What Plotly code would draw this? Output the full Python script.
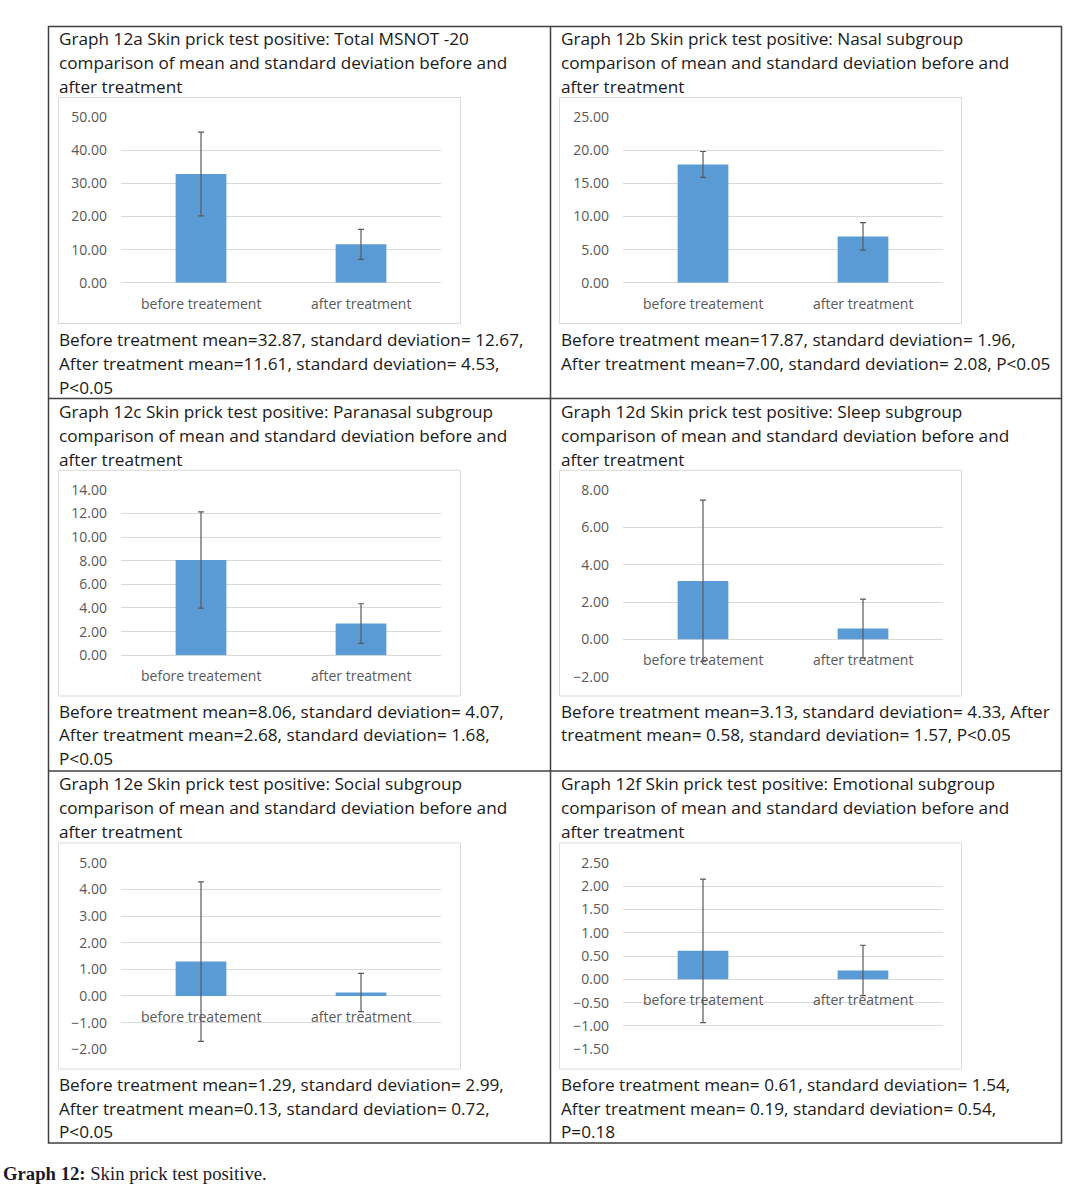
import plotly.graph_objects as go

W, H = 1090, 1194

# ---------------- data ----------------
categories = ["before treatement", "after treatment"]

means_a = [32.87, 11.61]
sd_a = [12.67, 4.53]
ticks_a = [0, 10, 20, 30, 40, 50]

means_b = [17.87, 7.00]
sd_b = [1.96, 2.08]
ticks_b = [0, 5, 10, 15, 20, 25]

means_c = [8.06, 2.68]
sd_c = [4.07, 1.68]
ticks_c = [0, 2, 4, 6, 8, 10, 12, 14]

means_d = [3.13, 0.58]
sd_d = [4.33, 1.57]
ticks_d = [-2, 0, 2, 4, 6, 8]

means_e = [1.29, 0.13]
sd_e = [2.99, 0.72]
ticks_e = [-2, -1, 0, 1, 2, 3, 4, 5]

means_f = [0.61, 0.19]
sd_f = [1.54, 0.54]
ticks_f = [-1.5, -1.0, -0.5, 0.0, 0.5, 1.0, 1.5, 2.0, 2.5]

titles_a = ["Graph 12a Skin prick test positive: Total MSNOT -20",
            "comparison of mean and standard deviation before and",
            "after treatment"]
titles_b = ["Graph 12b Skin prick test positive: Nasal subgroup",
            "comparison of mean and standard deviation before and",
            "after treatment"]
titles_c = ["Graph 12c Skin prick test positive: Paranasal subgroup",
            "comparison of mean and standard deviation before and",
            "after treatment"]
titles_d = ["Graph 12d Skin prick test positive: Sleep subgroup",
            "comparison of mean and standard deviation before and",
            "after treatment"]
titles_e = ["Graph 12e Skin prick test positive: Social subgroup",
            "comparison of mean and standard deviation before and",
            "after treatment"]
titles_f = ["Graph 12f Skin prick test positive: Emotional subgroup",
            "comparison of mean and standard deviation before and",
            "after treatment"]

captions_a = ["Before treatment mean=32.87, standard deviation= 12.67,",
              "After treatment mean=11.61, standard deviation= 4.53,",
              "P<0.05"]
captions_b = ["Before treatment mean=17.87, standard deviation= 1.96,",
              "After treatment mean=7.00, standard deviation= 2.08, P<0.05"]
captions_c = ["Before treatment mean=8.06, standard deviation= 4.07,",
              "After treatment mean=2.68, standard deviation= 1.68,",
              "P<0.05"]
captions_d = ["Before treatment mean=3.13, standard deviation= 4.33, After",
              "treatment mean= 0.58, standard deviation= 1.57, P<0.05"]
captions_e = ["Before treatment mean=1.29, standard deviation= 2.99,",
              "After treatment mean=0.13, standard deviation= 0.72,",
              "P<0.05"]
captions_f = ["Before treatment mean= 0.61, standard deviation= 1.54,",
              "After treatment mean= 0.19, standard deviation= 0.54,",
              "P=0.18"]

figure_caption_bold = "Graph 12:"
figure_caption_rest = " Skin prick test positive."

# ---------------- layout geometry (pixels) ----------------
def px(x):
    return x / W

def py(y):
    return 1 - y / H

BODY_FONT = "Open Sans"
BODY_SIZE = 17.2
CHART_FONT = "Open Sans"
CHART_SIZE = 14
BAR_COLOR = "#5B9BD5"
ERR_COLOR = "#595959"
GRID_COLOR = "#D9D9D9"
TICK_COLOR = "#595959"
TEXT_COLOR = "#1a1a1a"

panels = [
    dict(m=means_a, s=sd_a, t=ticks_a, x0=121, x1=441, yt=117.3, yb=282.7,
         box=(58.5, 97.5, 460.5, 323.5), tx=57, titles=titles_a, ty=[39, 62.5, 86.5],
         caps=captions_a, cy=[339.3, 363.3, 387]),
    dict(m=means_b, s=sd_b, t=ticks_b, x0=623, x1=943, yt=117.3, yb=282.7,
         box=(559.5, 97.5, 961.5, 323.5), tx=559, titles=titles_b, ty=[39, 62.5, 86.5],
         caps=captions_b, cy=[339.3, 363.3]),
    dict(m=means_c, s=sd_c, t=ticks_c, x0=121, x1=441, yt=489.7, yb=655.3,
         box=(58.5, 470.3, 460.5, 696), tx=57, titles=titles_c, ty=[411.5, 435.3, 459],
         caps=captions_c, cy=[711.3, 735, 758.7]),
    dict(m=means_d, s=sd_d, t=ticks_d, x0=623, x1=943, yt=490, yb=676.7,
         box=(559.5, 470.3, 961.5, 696), tx=559, titles=titles_d, ty=[411.5, 435.3, 459],
         caps=captions_d, cy=[711.3, 735]),
    dict(m=means_e, s=sd_e, t=ticks_e, x0=121, x1=441, yt=862.7, yb=1049.3,
         box=(58.5, 843, 460.5, 1069), tx=57, titles=titles_e, ty=[783.5, 807.3, 831],
         caps=captions_e, cy=[1084, 1108, 1131.7]),
    dict(m=means_f, s=sd_f, t=ticks_f, x0=623, x1=943, yt=862.7, yb=1049.3,
         box=(559.5, 843, 961.5, 1069), tx=559, titles=titles_f, ty=[783.5, 807.3, 831],
         caps=captions_f, cy=[1084, 1108, 1131.7]),
]

fig = go.Figure()
annotations = []
shapes = []

for i, p in enumerate(panels):
    n = i + 1
    xa = "x" if n == 1 else f"x{n}"
    ya = "y" if n == 1 else f"y{n}"
    fig.add_trace(go.Bar(
        x=[0, 1], y=p["m"], width=0.317,
        marker=dict(color=BAR_COLOR, line=dict(width=0)),
        error_y=dict(type="data", array=p["s"], visible=True,
                     color=ERR_COLOR, thickness=1.2, width=3),
        xaxis=xa, yaxis=ya, showlegend=False, hoverinfo="skip",
    ))
    xkey = "xaxis" if n == 1 else f"xaxis{n}"
    ykey = "yaxis" if n == 1 else f"yaxis{n}"
    fig.layout[xkey] = dict(
        domain=[px(p["x0"]), px(p["x1"])], range=[-0.5, 1.5],
        showgrid=False, zeroline=False, showticklabels=False, showline=False,
        anchor=ya, fixedrange=True, automargin=False,
    )
    fig.layout[ykey] = dict(
        domain=[py(p["yb"]), py(p["yt"])], range=[p["t"][0], p["t"][-1]],
        tickvals=p["t"], tickformat=".2f",
        showgrid=True, gridcolor=GRID_COLOR, gridwidth=1,
        zeroline=True, zerolinecolor=GRID_COLOR, zerolinewidth=1.2,
        showline=False, ticks="", ticklabelstandoff=13,
        tickfont=dict(family=CHART_FONT, size=CHART_SIZE, color=TICK_COLOR),
        anchor=xa, fixedrange=True, automargin=False,
    )
    for ci, cat in enumerate(categories):
        annotations.append(dict(
            x=ci, y=0, xref=xa, yref=ya, text=cat, showarrow=False,
            xanchor="center", yanchor="middle", yshift=-20.5,
            font=dict(family=CHART_FONT, size=CHART_SIZE, color=TICK_COLOR),
        ))
    bx0, by0, bx1, by1 = p["box"]
    shapes.append(dict(type="rect", xref="paper", yref="paper",
                       x0=px(bx0), x1=px(bx1), y0=py(by1), y1=py(by0),
                       line=dict(color="#D9D9D9", width=1), layer="below"))
    for txt, yy in zip(p["titles"], p["ty"]):
        annotations.append(dict(
            x=px(p["tx"]), y=py(yy), xref="paper", yref="paper", text=txt,
            showarrow=False, xanchor="left", yanchor="middle",
            font=dict(family=BODY_FONT, size=BODY_SIZE, color=TEXT_COLOR),
        ))
    for txt, yy in zip(p["caps"], p["cy"]):
        annotations.append(dict(
            x=px(p["tx"]), y=py(yy), xref="paper", yref="paper", text=txt,
            showarrow=False, xanchor="left", yanchor="middle",
            font=dict(family=BODY_FONT, size=BODY_SIZE, color=TEXT_COLOR),
        ))

# table borders
BORDER = "#404040"
shapes.append(dict(type="rect", xref="paper", yref="paper",
                   x0=px(48.5), x1=px(1061.5), y0=py(1143), y1=py(26.5),
                   line=dict(color=BORDER, width=1.5)))
shapes.append(dict(type="line", xref="paper", yref="paper",
                   x0=px(550.5), x1=px(550.5), y0=py(1143), y1=py(26.5),
                   line=dict(color=BORDER, width=1.5)))
for yy in [398.5, 771]:
    shapes.append(dict(type="line", xref="paper", yref="paper",
                       x0=px(48.5), x1=px(1061.5), y0=py(yy), y1=py(yy),
                       line=dict(color=BORDER, width=1.5)))

annotations.append(dict(
    x=px(1), y=py(1173), xref="paper", yref="paper",
    text=f"<b>{figure_caption_bold}</b>{figure_caption_rest}",
    showarrow=False, xanchor="left", yanchor="middle",
    font=dict(family="Liberation Serif", size=18.7, color="#1a1a2a"),
))

fig.update_layout(
    width=W, height=H, autosize=False,
    margin=dict(l=0, r=0, t=0, b=0, pad=0, autoexpand=False),
    paper_bgcolor="white", plot_bgcolor="white",
    annotations=annotations, shapes=shapes,
    bargap=0.683,
)

post = (
    "document.documentElement.style.margin='0';"
    "document.documentElement.style.overflow='hidden';"
    "document.body.style.margin='0';"
    "document.body.style.padding='0';"
    "document.body.style.overflow='hidden';"
    "var d=document.getElementById('{plot_id}');"
    "d.style.position='absolute';d.style.top='0px';d.style.left='0px';"
)

fig.write_html(
    "out.html",
    config={"displayModeBar": False, "responsive": False},
    post_script=post,
)
